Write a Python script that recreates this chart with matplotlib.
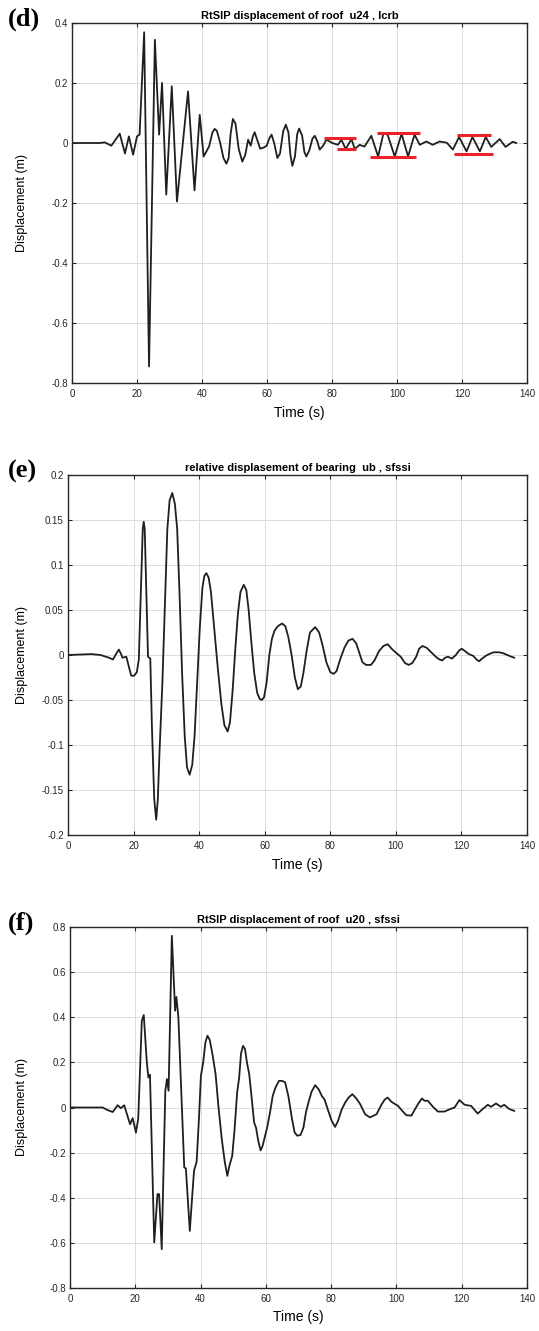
import matplotlib
matplotlib.use("Agg")
import matplotlib.pyplot as plt
from matplotlib.ticker import FuncFormatter

# ---- panel (d): roof displacement u24, lcrb ----
t_d = [0, 8.5, 10.1, 12.1, 14.7, 16.3, 17.5, 18.8, 20.0, 20.8, 22.2, 23.7, 25.5, 26.8,
       27.7, 29.0, 30.7, 32.3, 35.7, 37.7, 39.3, 40.5, 42.2, 43.2, 43.9, 44.6, 45.6,
       46.6, 47.5, 48.2, 48.8, 49.5, 50.3, 51.3, 52.4, 53.3, 54.2, 55.0, 55.6, 56.2,
       57.0, 57.9, 59.0, 59.9, 60.7, 61.4, 62.2, 63.2, 64.0, 65.0, 65.8, 66.6, 67.2,
       67.8, 68.6, 69.3, 69.9, 70.8, 71.5, 72.1, 73.0, 74.0, 74.7, 75.5, 76.2, 77.2,
       78.3, 80.1, 81.8, 82.9, 84.2, 86.0, 87.0, 88.5, 90.0, 92.1, 94.2, 95.8, 97.1,
       99.3, 101.4, 103.4, 105.4, 107.0, 109.0, 111.0, 113.1, 115.3, 117.2, 119.1,
       121.4, 123.2, 125.5, 127.3, 129.0, 131.6, 133.4, 135.6, 136.7]
u_d = [0, 0, 0.002, -0.009, 0.031, -0.035, 0.022, -0.039, 0.022, 0.028, 0.369, -0.745,
       0.344, 0.028, 0.2, -0.172, 0.189, -0.195, 0.172, -0.158, 0.094, -0.045, -0.011,
       0.035, 0.047, 0.04, 0.0, -0.05, -0.069, -0.05, 0.03, 0.08, 0.065, -0.02, -0.062,
       -0.04, 0.011, -0.009, 0.02, 0.036, 0.01, -0.019, -0.015, -0.009, 0.015, 0.028,
       0.0, -0.05, -0.035, 0.04, 0.061, 0.035, -0.04, -0.076, -0.045, 0.03, 0.048,
       0.025, -0.03, -0.045, -0.025, 0.015, 0.024, 0.005, -0.022, -0.01, 0.011, 0,
       -0.006, 0.011, -0.02, 0.013, -0.02, -0.006, -0.012, 0.024, -0.045, 0.031, 0.028,
       -0.045, 0.031, -0.045, 0.028, -0.006, 0.005, -0.006, 0.005, 0.001, -0.022, 0.02,
       -0.028, 0.02, -0.028, 0.02, -0.013, 0.013, -0.013, 0.004, 0.0]

# red marker bars in panel (d): (t_start, t_end, level)
bars_d = [(77.4, 87.5, 0.017), (81.5, 87.5, -0.02),
          (93.7, 107.0, 0.035), (91.8, 105.8, -0.047),
          (118.5, 129.0, 0.028), (117.4, 129.5, -0.036)]

# ---- panel (e): relative displacement of bearing ub, sfssi ----
t_e = [0, 7.1, 9.9, 12.5, 13.7, 14.8, 15.5, 16.2, 16.6, 17.8, 18.7, 19.3, 20.2, 21.0,
       21.6, 22.3, 22.8, 23.1, 23.4, 23.9, 24.4, 25.1, 25.6, 26.3, 26.9, 27.4, 27.9,
       28.8, 29.6, 30.3, 31.0, 31.8, 32.6, 33.3, 34.0, 34.8, 35.6, 36.3, 37.1, 37.9,
       38.6, 39.4, 40.2, 41.0, 41.6, 42.2, 42.9, 43.6, 44.6, 45.7, 46.8, 47.7, 48.7,
       49.4, 50.2, 51.0, 51.8, 52.6, 53.6, 54.4, 55.1, 55.9, 56.8, 57.7, 58.5, 59.1,
       59.8, 60.6, 61.4, 62.2, 63.0, 64.0, 65.3, 66.3, 67.2, 68.2, 69.2, 70.1, 71.0,
       71.8, 72.8, 73.8, 75.4, 76.6, 77.7, 78.8, 80.0, 81.0, 81.9, 83.0, 84.3, 85.5,
       86.8, 87.9, 88.8, 89.8, 90.9, 92.4, 93.5, 94.8, 96.2, 97.5, 98.7, 99.9, 101.5,
       102.8, 103.9, 105.0, 106.2, 107.1, 108.1, 109.4, 110.8, 112.2, 113.3, 114.2,
       115.0, 115.9, 117.1, 118.3, 119.3, 120.1, 121.2, 122.3, 123.6, 124.6, 125.4,
       126.3, 127.4, 128.4, 129.8, 131.5, 132.7, 134.0, 135.3, 136.1]
u_e = [0, 0.001, 0, -0.003, -0.005, 0.002, 0.006, 0.001, -0.003, -0.002, -0.015,
       -0.023, -0.023, -0.019, -0.005, 0.08, 0.14, 0.148, 0.14, 0.07, -0.002, -0.004,
       -0.08, -0.16, -0.183, -0.16, -0.109, -0.03, 0.06, 0.14, 0.172, 0.18, 0.168, 0.14,
       0.07, -0.02, -0.09, -0.125, -0.133, -0.122, -0.09, -0.03, 0.03, 0.075, 0.088,
       0.091, 0.086, 0.07, 0.03, -0.015, -0.055, -0.078, -0.085, -0.075, -0.04, 0.005,
       0.045, 0.07, 0.078, 0.072, 0.05, 0.015, -0.02, -0.042, -0.049, -0.05, -0.047,
       -0.03, 0.0, 0.018, 0.027, 0.032, 0.035, 0.032, 0.02, 0.0, -0.025, -0.038, -0.035,
       -0.02, 0.005, 0.025, 0.031, 0.025, 0.01, -0.008, -0.019, -0.021, -0.018, -0.005,
       0.008, 0.016, 0.018, 0.013, 0.003, -0.008, -0.011, -0.011, -0.006, 0.004, 0.01,
       0.012, 0.007, 0.003, -0.002, -0.009, -0.011, -0.009, -0.002, 0.007, 0.01, 0.008,
       0.003, -0.002, -0.005, -0.006, -0.003, -0.002, -0.004, 0.0, 0.005, 0.007, 0.004,
       0.001, -0.001, -0.005, -0.007, -0.004, -0.001, 0.001, 0.003, 0.003, 0.002, 0.0,
       -0.002, -0.003]

# ---- panel (f): roof displacement u20, sfssi ----
t_f = [0, 10.0, 11.6, 13.1, 14.6, 15.6, 16.6, 18.4, 19.2, 20.2, 20.9, 22.0, 22.6, 23.5,
       24.0, 24.5, 25.8, 26.8, 27.3, 28.1, 29.2, 29.7, 30.2, 31.2, 32.2, 32.6, 33.2,
       35.0, 35.5, 36.7, 37.5, 38.0, 38.8, 39.5, 40.1, 40.8, 41.5, 42.1, 42.8, 43.6,
       44.6, 45.5, 46.5, 47.4, 48.2, 48.8, 49.7, 50.4, 51.2, 51.8, 52.4, 53.0, 53.6,
       54.2, 54.9, 55.6, 56.4, 57.0, 57.7, 58.4, 59.0, 60.4, 61.3, 62.1, 63.0, 64.0,
       65.0, 65.9, 66.9, 68.0, 68.8, 69.6, 70.6, 71.5, 72.3, 73.1, 74.0, 75.1, 76.2,
       77.2, 78.0, 79.0, 80.2, 81.2, 82.1, 83.2, 84.3, 85.4, 86.5, 87.7, 88.9, 90.4,
       91.9, 93.9, 95.4, 96.4, 97.3, 98.5, 100.5, 101.8, 103.0, 104.6, 105.6, 106.6,
       107.8, 108.6, 109.6, 111.2, 112.7, 114.7, 116.3, 117.8, 119.3, 120.9, 122.9,
       124.9, 126.4, 128.0, 129.0, 130.5, 132.0, 133.0, 134.6, 136.1]
u_f = [0, 0, -0.012, -0.02, 0.01, -0.003, 0.01, -0.074, -0.047, -0.111, -0.05, 0.384,
       0.41, 0.207, 0.133, 0.145, -0.598, -0.384, -0.384, -0.628, 0.074, 0.126, 0.074,
       0.761, 0.429, 0.49, 0.4, -0.266, -0.27, -0.547, -0.38, -0.28, -0.24, -0.05, 0.14,
       0.2, 0.29, 0.318, 0.3, 0.24, 0.148, 0.0, -0.14, -0.24, -0.303, -0.26, -0.214,
       -0.1, 0.066, 0.13, 0.24, 0.273, 0.26, 0.2, 0.148, 0.05, -0.066, -0.09, -0.15,
       -0.19, -0.17, -0.089, -0.02, 0.052, 0.09, 0.118, 0.118, 0.112, 0.05, -0.05,
       -0.11, -0.125, -0.122, -0.09, -0.02, 0.025, 0.07, 0.099, 0.08, 0.05, 0.035,
       -0.01, -0.06, -0.086, -0.06, -0.01, 0.022, 0.045, 0.059, 0.04, 0.015, -0.03,
       -0.044, -0.03, 0.012, 0.035, 0.044, 0.025, 0.007, -0.015, -0.034, -0.036, -0.01,
       0.015, 0.04, 0.03, 0.03, 0.003, -0.018, -0.018, -0.008, 0.0, 0.033, 0.012, 0.007,
       -0.027, -0.007, 0.012, 0.003, 0.018, 0.003, 0.012, -0.007, -0.015]

x_ticks = [0, 20, 40, 60, 80, 100, 120, 140]
yticks_d = [-0.8, -0.6, -0.4, -0.2, 0, 0.2, 0.4]
yticks_e = [-0.2, -0.15, -0.1, -0.05, 0, 0.05, 0.1, 0.15, 0.2]
yticks_f = [-0.8, -0.6, -0.4, -0.2, 0, 0.2, 0.4, 0.6, 0.8]

plt.rcParams['font.family'] = ['Liberation Sans', 'DejaVu Sans']

W, H = 539, 1331
fig = plt.figure(figsize=(W / 100, H / 100), dpi=100)


def make_ax(left, right, top, bottom):
    return fig.add_axes([left / W, 1 - bottom / H, (right - left) / W, (bottom - top) / H])


def style_ax(ax, yticks, title, letter, left, right, top):
    ax.set_xlim(0, 140)
    ax.set_ylim(yticks[0], yticks[-1])
    ax.set_xticks(x_ticks)
    ax.set_yticks(yticks)
    ax.yaxis.set_major_formatter(FuncFormatter(lambda v, p: '%g' % v))
    ax.grid(True, color='#dcdcdc', linewidth=0.7)
    ax.set_axisbelow(True)
    ax.tick_params(direction='in', top=True, right=True, length=3, width=0.8,
                   labelsize=7, colors='#262626')
    ax.tick_params(axis='x', pad=4)
    ax.tick_params(axis='y', pad=3)
    for s in ax.spines.values():
        s.set_color('#262626')
        s.set_linewidth(1.0)
    ax.set_title(title, fontsize=8, fontweight='bold', pad=3)
    ax.set_xlabel('Time (s)', fontsize=10, labelpad=5)
    ax.set_ylabel('Displacement (m)', fontsize=9)
    ax.yaxis.set_label_coords((28 - left) / (right - left), 0.5)
    fig.text(8 / W, 1 - (top - 4) / H, letter, fontsize=19, fontweight='bold',
             family='Liberation Serif', va='center', ha='left')


ax_d = make_ax(72, 527, 23, 383)
ax_d.plot(t_d, u_d, color='#1f1f1f', lw=1.3)
for t0, t1, lev in bars_d:
    ax_d.plot([t0, t1], [lev, lev], color='#e8242a', lw=2.2, solid_capstyle='butt')
style_ax(ax_d, yticks_d, 'RtSIP displacement of roof  u24 , lcrb', '(d)', 72, 527, 23)

ax_e = make_ax(68, 527, 475, 835)
ax_e.plot(t_e, u_e, color='#1f1f1f', lw=1.3)
style_ax(ax_e, yticks_e, 'relative displasement of bearing  ub , sfssi', '(e)', 68, 527, 475)

ax_f = make_ax(70, 527, 927, 1288)
ax_f.plot(t_f, u_f, color='#1f1f1f', lw=1.3)
style_ax(ax_f, yticks_f, 'RtSIP displacement of roof  u20 , sfssi', '(f)', 70, 527, 927)

fig.savefig('out.png', dpi=100, facecolor='white')
